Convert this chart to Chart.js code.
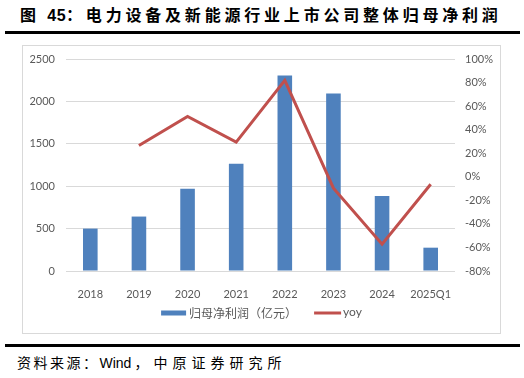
<!DOCTYPE html>
<html>
<head>
<meta charset="utf-8">
<script src="https://cdn.jsdelivr.net/npm/chart.js@4.4.1/dist/chart.umd.min.js"></script>
<style>
html, body { margin: 0; padding: 0; background: #fff; }
body { width: 524px; height: 378px; position: relative; overflow: hidden; font-family: "Noto Sans CJK SC", sans-serif; }
#title { position: absolute; left: 20px; top: 4px; font-size: 16px; font-weight: bold; letter-spacing: 3.8px; white-space: nowrap; line-height: 20px; color: #000; }
#title .num { font-family: "Liberation Sans", Arial, sans-serif; letter-spacing: 0.5px; }
.rule { position: absolute; left: 5px; width: 515px; height: 3px; background: #000; }
#frame { position: absolute; left: 22px; top: 45px; width: 477px; height: 287px; border: 1px solid #D9D9D9; }
#source { position: absolute; left: 17px; top: 353px; font-size: 14px; line-height: 18px; white-space: nowrap; color: #000; }
#source .a { letter-spacing: 2.5px; }
#source .b { letter-spacing: 5px; margin-left: 3px; }
#source .w { font-family: "Liberation Sans", Arial, sans-serif; }
</style>
</head>
<body>
<div id="title">图 <span class="num">45</span>：电力设备及新能源行业上市公司整体归母净利润</div>
<div class="rule" style="top:31px"></div>
<div id="frame"><canvas id="chart" width="477" height="287"></canvas></div>
<div class="rule" style="top:344px"></div>
<div id="source"><span class="a">资料来源：</span><span class="w">Wind</span><span class="b">，中原证券研究所</span></div>
<script>
// data
const categories = ["2018", "2019", "2020", "2021", "2022", "2023", "2024", "2025Q1"];
const netProfit = [500, 642, 969, 1265, 2305, 2092, 883, 275];       // 亿元
const yoy = [null, 26.5, 51.2, 29.4, 81.8, -9.7, -57.3, -6.3];       // %
const leftTicks = [0, 2500, 500];     // min, max, step
const rightTicks = [-80, 100, 20];

const barColor = "#4F81BD";
const lineColor = "#C0504D";
const tickColor = "#595959";
const tickFont = { family: "Lato", size: 11 };

// legend drawn by hand: bar swatch + line swatch, centred under the axis
const legendPlugin = {
    id: "bottomLegend",
    afterDraw(chart) {
        const ctx = chart.ctx;
        const y = 267;
        const ds = chart.data.datasets;
        ctx.save();
        ctx.font = '12px "Noto Sans CJK SC"';
        const t1 = ds[0].label;
        const w1 = ctx.measureText(t1).width;
        ctx.font = '12px Lato';
        const t2 = ds[1].label;
        const w2 = ctx.measureText(t2).width;
        const total = 25 + 3 + w1 + 17 + 27 + 2 + w2;
        let x = (chart.width - total) / 2;
        ctx.fillStyle = ds[0].backgroundColor;
        ctx.fillRect(x, y - 2.5, 25, 5);
        x += 28;
        ctx.fillStyle = tickColor;
        ctx.textBaseline = "middle";
        ctx.font = '12px "Noto Sans CJK SC"';
        ctx.fillText(t1, x, y);
        x += w1 + 17;
        ctx.strokeStyle = ds[1].borderColor;
        ctx.lineWidth = 3;
        ctx.beginPath();
        ctx.moveTo(x, y);
        ctx.lineTo(x + 27, y);
        ctx.stroke();
        x += 29;
        ctx.font = '12px Lato';
        ctx.fillText(t2, x, y - 1);
        ctx.restore();
    }
};

// fixed axis sizes; tick padding should not eat into the plot height
const fitY = width => scale => {
    scale.width = width;
    scale.paddingTop = 0;
    scale.paddingBottom = 0;
};

new Chart(document.getElementById("chart"), {
    type: "bar",
    data: {
        labels: categories,
        datasets: [{
            label: "归母净利润（亿元）",
            data: netProfit,
            backgroundColor: barColor,
            categoryPercentage: 1,
            barPercentage: 0.3,
            yAxisID: "y",
            order: 1,
        }, {
            type: "line",
            label: "yoy",
            data: yoy,
            borderColor: lineColor,
            borderWidth: 3,
            pointRadius: 0,
            tension: 0,
            yAxisID: "y1",
            order: 0,
        }],
    },
    options: {
        responsive: false,
        animation: false,
        layout: { padding: { top: 13, left: 0, right: 0, bottom: 0 } },
        plugins: {
            legend: { display: false },
            tooltip: { enabled: false },
        },
        scales: {
            x: {
                grid: { display: false },
                border: { display: false },
                ticks: { color: tickColor, font: tickFont, padding: 9, maxRotation: 0 },
                afterFit: scale => { scale.height = 62; },
            },
            y: {
                position: "left",
                min: leftTicks[0],
                max: leftTicks[1],
                grid: { color: "#D9D9D9", lineWidth: 1, drawTicks: false },
                border: { display: false },
                ticks: { stepSize: leftTicks[2], color: tickColor, font: tickFont, padding: 11,
                         callback: v => String(v) },
                afterFit: fitY(43),
            },
            y1: {
                position: "right",
                min: rightTicks[0],
                max: rightTicks[1],
                grid: { display: false, drawTicks: false },
                border: { display: false },
                ticks: { stepSize: rightTicks[2], color: tickColor, font: tickFont, padding: 10,
                         callback: v => v + "%" },
                afterFit: fitY(45),
            },
        },
    },
    plugins: [legendPlugin],
});
</script>
</body>
</html>
